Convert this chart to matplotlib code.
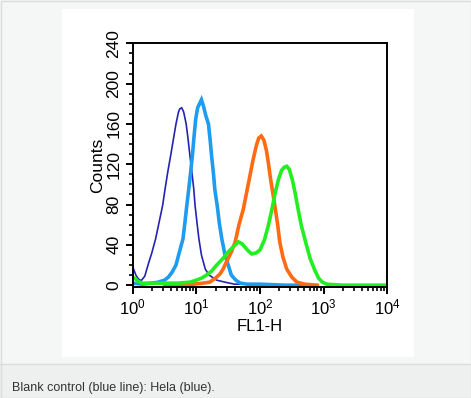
import matplotlib
matplotlib.use('Agg')
import matplotlib.pyplot as plt
from matplotlib.patches import Rectangle
from matplotlib.lines import Line2D
from matplotlib.ticker import FixedLocator, LogLocator, NullFormatter

plt.rcParams['font.family'] = ['Liberation Sans', 'DejaVu Sans']
plt.rcParams['mathtext.default'] = 'regular'

# histogram outlines, x in decades of FL1-H
blank_pos = [0.00, 0.02, 0.05, 0.08, 0.11, 0.14, 0.19, 0.25, 0.30, 0.36, 0.42, 0.47, 0.51,
             0.55, 0.60, 0.64, 0.68, 0.72, 0.74, 0.77, 0.80, 0.84, 0.87, 0.90, 0.93, 0.96,
             0.98, 1.01, 1.04, 1.08, 1.14, 1.20, 1.32, 1.45, 1.60, 1.80, 2.10, 2.50]
blank_cnt = [18, 15, 10, 7, 5, 5, 9, 22, 32, 46, 64, 79, 96,
             112, 130, 145, 160, 172, 175, 176, 172, 160, 145, 128, 112, 95,
             79, 62, 46, 30, 16, 10, 5, 3, 1, 1, 0, 0]

lblue_pos = [0.00, 0.15, 0.30, 0.40, 0.50, 0.56, 0.62, 0.68, 0.73, 0.79, 0.82, 0.85, 0.88,
             0.91, 0.94, 0.96, 0.99, 1.02, 1.05, 1.08, 1.11, 1.15, 1.19, 1.22, 1.24, 1.27,
             1.29, 1.33, 1.36, 1.40, 1.45, 1.50, 1.55, 1.62, 1.69, 1.80, 2.00, 2.40, 2.70]
lblue_cnt = [2, 1, 2, 3, 5, 8, 13, 20, 32, 46, 62, 79, 95,
             112, 130, 145, 165, 176, 180, 184, 178, 168, 160, 142, 128, 110,
             95, 78, 62, 46, 30, 20, 10, 5, 2, 1, 1, 0, 0]

orange_pos = [0.50, 0.80, 0.95, 1.10, 1.21, 1.30, 1.37, 1.42, 1.48, 1.55, 1.61, 1.67, 1.74,
              1.79, 1.84, 1.89, 1.94, 1.98, 2.02, 2.06, 2.10, 2.13, 2.16, 2.20, 2.24, 2.28,
              2.31, 2.36, 2.42, 2.50, 2.58, 2.70, 2.90]
orange_cnt = [0, 1, 1, 2, 3, 7, 11, 16, 24, 33, 43, 60, 76,
              92, 108, 124, 138, 146, 148, 144, 134, 122, 108, 92, 76, 59,
              43, 28, 16, 8, 3, 1, 0]

green_pos = [0.00, 0.03, 0.08, 0.15, 0.30, 0.50, 0.70, 0.90, 1.00, 1.08, 1.16, 1.24, 1.32,
             1.41, 1.50, 1.58, 1.66, 1.72, 1.80, 1.87, 1.94, 2.00, 2.07, 2.13, 2.19, 2.24,
             2.29, 2.34, 2.38, 2.42, 2.46, 2.51, 2.55, 2.60, 2.65, 2.72, 2.79, 2.86, 2.92,
             2.98, 3.05, 3.30, 3.60, 4.00]
green_cnt = [8, 7, 4, 2, 2, 2, 2, 3, 5, 7, 10, 14, 20,
             26, 33, 38, 43, 41, 35, 31, 32, 35, 45, 59, 76, 92,
             105, 114, 117, 118, 115, 104, 92, 75, 59, 42, 26, 15, 7,
             3, 1, 0, 0, 0]

y_ticks = [0, 40, 80, 120, 160, 200, 240]
x_ticks = [1, 10, 100, 1000, 10000]
x_labels = ['$10^{0}$', '$10^{1}$', '$10^{2}$', '$10^{3}$', '$10^{4}$']
caption = 'Blank control (blue line): Hela (blue).'

W, H = 471, 398
fig = plt.figure(figsize=(W / 100, H / 100), dpi=100, facecolor='#f5f6f6')

# page-like backgrounds
fig.patches.append(Rectangle((0, 0), 1, 34 / H, transform=fig.transFigure,
                             facecolor='#eeefef', edgecolor='none', zorder=0))
fig.lines.append(Line2D([0, 1], [34 / H, 34 / H], transform=fig.transFigure,
                        color='#dcdcdc', lw=1))
fig.patches.append(Rectangle((62 / W, (H - 357) / H), 352 / W, 348 / H,
                             transform=fig.transFigure, facecolor='white',
                             edgecolor='none', zorder=0))
fig.patches.append(Rectangle((0.5 / W, 0.5 / H), 1 - 1 / W, 1 - 1 / H,
                             transform=fig.transFigure, facecolor='none',
                             edgecolor='#dcdcdc', lw=1, zorder=0))

ax = fig.add_axes([132.7 / W, (H - 286.7) / H, 254.6 / W, 243.4 / H])
ax.set_zorder(5)
ax.set_facecolor('white')

def draw(pos, cnt, color, lw):
    xs = [10 ** p for p in pos]
    ax.plot(xs, cnt, color=color, lw=lw, solid_joinstyle='miter')

draw(blank_pos, blank_cnt, '#2424b0', 1.2)
draw(lblue_pos, lblue_cnt, '#1e9cf0', 2.6)
draw(orange_pos, orange_cnt, '#ff6a12', 2.6)
draw(green_pos, green_cnt, '#22ee22', 2.6)

ax.set_xscale('log')
ax.set_xlim(1, 10000)
ax.set_ylim(-1.5, 240)
ax.set_xticks(x_ticks)
ax.set_xticklabels(x_labels, fontsize=12)
ax.xaxis.set_minor_locator(LogLocator(base=10, subs=range(2, 10)))
ax.xaxis.set_minor_formatter(NullFormatter())
ax.set_yticks(y_ticks)
ax.set_yticklabels([str(v) for v in y_ticks], fontsize=12.5, rotation=90, va='center')
ax.yaxis.set_minor_locator(FixedLocator(range(0, 241, 10)))

ax.tick_params(which='major', direction='out', length=5, width=1.4, pad=3)
ax.tick_params(which='minor', direction='out', length=3, width=1.2)
for s in ax.spines.values():
    s.set_linewidth(1.4)

ax.set_xlabel('FL1-H', fontsize=12, labelpad=1)
ax.set_ylabel('Counts', fontsize=12.5, labelpad=1)

fig.text(12 / W, (H - 388) / H, caption, fontsize=9, color='#333333', va='center')

fig.savefig('out.png', dpi=100, facecolor=fig.get_facecolor())
